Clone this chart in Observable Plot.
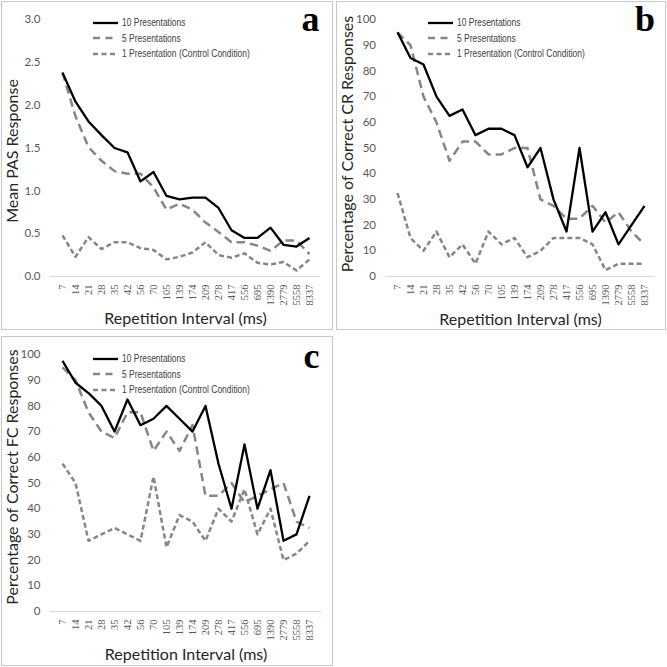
<!DOCTYPE html>
<html>
<head>
<meta charset="utf-8">
<script src="https://cdn.jsdelivr.net/npm/d3@7"></script>
<script src="https://cdn.jsdelivr.net/npm/@observablehq/plot@0.6"></script>
<style>
  body { margin: 0; background: #fff; }
  #wrap { position: relative; width: 667px; height: 667px; background: #fff; overflow: hidden; }
  .panel { position: absolute; box-sizing: border-box; border: 1px solid #c8c8c8; pointer-events: none; }
  .plot { position: absolute; max-width: none !important; }
  .plot g[aria-label="x-axis tick label"], .plot g[aria-label="x-axis tick label"] text { font-family: "Liberation Serif", "DejaVu Serif", serif; }
  .legend { position: absolute; font-family: "Liberation Sans", Arial, sans-serif; font-size: 10.2px; color: #404040; }
  .legend .row { display: flex; align-items: center; height: 15.5px; white-space: nowrap; }
  .legend svg { margin-right: 4px; flex: none; }
  .legend span { display: inline-block; transform: scaleX(0.83); transform-origin: left center; }
</style>
</head>
<body>
<div id="wrap"></div>
<script>
// ---- data ----
const intervals = ["7","14","21","28","35","42","56","70","105","139","174","209","278","417","556","695","1390","2779","5558","8337"];
const seriesNames = ["10 Presentations", "5 Presentations", "1 Presentation (Control Condition)"];

// Panel a: Mean PAS Response
const pas10 = [2.38,2.04,1.81,1.65,1.50,1.45,1.11,1.22,0.94,0.90,0.92,0.92,0.80,0.54,0.45,0.45,0.57,0.37,0.35,0.45];
const pas5  = [2.38,1.87,1.51,1.35,1.23,1.20,1.20,1.04,0.78,0.85,0.78,0.63,0.52,0.40,0.40,0.36,0.30,0.42,0.42,0.26];
const pas1  = [0.48,0.23,0.46,0.32,0.40,0.40,0.33,0.31,0.20,0.23,0.28,0.40,0.25,0.22,0.27,0.16,0.14,0.17,0.07,0.20];

// Panel b: Percentage of Correct CR Responses
const cr10 = [95,85,82.5,70,62.5,65,55,57.5,57.5,55,42.5,50,30,17.5,50,17.5,25,12.5,20,27.5];
const cr5  = [95,90,70,60,45,52.5,52.5,47.5,47.5,50,50,30,27.5,22.5,22.5,27.5,21,25,17.5,12.5];
const cr1  = [32.5,15,10,17.5,7.5,12.5,5,17.5,12.5,15,7.5,10,15,15,15,12.5,2.5,5,5,5];

// Panel c: Percentage of Correct FC Responses
const fc10 = [97.5,89,85,80,70,82.5,72.5,75,80,75,70,80,57.5,40,65,40,55,27.5,30,45];
const fc5  = [95,90,77.5,70,67.5,77.5,77.5,62.5,70,62.5,72.5,45,45,50,42.5,45,47.5,50,35,32.5];
const fc1  = [57.5,50,27.5,30,32.5,30,27.5,52.5,25,37.5,35,27.5,40,35,47.5,30,40,20,22.5,27.5];

const pasTicks = [0, 0.5, 1.0, 1.5, 2.0, 2.5, 3.0];
const pctTicks = [0, 10, 20, 30, 40, 50, 60, 70, 80, 90, 100];
const xTitle = "Repetition Interval (ms)";

// ---- styles ----
const styles = [
  {stroke: "#000000", strokeWidth: 2.3, dash: null},
  {stroke: "#868686", strokeWidth: 2.5, dash: "8.5,5"},
  {stroke: "#868686", strokeWidth: 2.5, dash: "5,3"}
];

const wrap = document.getElementById("wrap");

function makePanel(cfg) {
  const rows = cfg.series.map((arr, k) => intervals.map((iv, i) => ({interval: iv, value: arr[i], series: seriesNames[k]})));
  const lineMarks = [2, 1, 0].map(k => {
    const s = styles[k];
    return Plot.line(rows[k], {x: "interval", y: "value", stroke: s.stroke, strokeWidth: s.strokeWidth,
      strokeDasharray: s.dash || undefined, strokeLinejoin: "round", strokeLinecap: "butt"});
  });
  const chart = Plot.plot({
    width: cfg.width, height: cfg.height,
    marginLeft: cfg.ml, marginRight: cfg.mr, marginTop: cfg.mt, marginBottom: cfg.mb,
    style: {background: "transparent", overflow: "visible"},
    x: {type: "point", domain: intervals, padding: 0.5, label: null},
    y: {domain: cfg.ydomain, label: null},
    marks: [
      Plot.ruleY([0], {stroke: "#d9d9d9", strokeWidth: 1}),
      Plot.axisX({tickRotate: -90, tickSize: 0, tickPadding: 8, fontFamily: "Liberation Serif", fontSize: 10.5, color: "#595959", label: null}),
      Plot.axisY({ticks: cfg.yticks, tickFormat: cfg.yfmt, tickSize: 0, tickPadding: 10, fontFamily: "Lato", fontSize: 11.5, color: "#595959", label: null}),
      ...lineMarks,
      Plot.text([xTitle], {text: d => d, frameAnchor: "bottom", textAnchor: "middle", dy: cfg.xdy, fontFamily: "Lato", fontSize: 16, fill: "#262626", lineAnchor: "middle"}),
      Plot.text([cfg.ylabel], {text: d => d, frameAnchor: "left", textAnchor: "middle", dx: cfg.ydx, dy: cfg.ydy, rotate: -90, fontFamily: "Lato", fontSize: 16, fill: "#262626", lineAnchor: "middle"}),
      Plot.text([cfg.letter], {text: d => d, frameAnchor: "top-right", textAnchor: "end", lineAnchor: "bottom", dx: cfg.letterDx, dy: cfg.letterDy, fontFamily: "Liberation Serif", fontWeight: "bold", fontSize: 36, fill: "#000"})
    ]
  });
  chart.classList.add("plot");
  chart.style.left = cfg.left + "px";
  chart.style.top = cfg.top + "px";
  wrap.appendChild(chart);

  // panel border
  const box = document.createElement("div");
  box.className = "panel";
  Object.assign(box.style, {left: cfg.box[0] + "px", top: cfg.box[1] + "px", width: cfg.box[2] + "px", height: cfg.box[3] + "px"});
  wrap.appendChild(box);

  // legend
  const lg = document.createElement("div");
  lg.className = "legend";
  lg.style.left = cfg.legend[0] + "px";
  lg.style.top = cfg.legend[1] + "px";
  seriesNames.forEach((name, k) => {
    const row = document.createElement("div");
    row.className = "row";
    const s = styles[k];
    const svg = d3.create("svg").attr("width", 25).attr("height", 6);
    svg.append("line").attr("x1", 0).attr("x2", 25).attr("y1", 3).attr("y2", 3)
      .attr("stroke", s.stroke).attr("stroke-width", k === 0 ? 2.3 : 2.5)
      .attr("stroke-dasharray", k === 1 ? "7,5.5" : k === 2 ? "5,3.5" : null);
    row.appendChild(svg.node());
    const t = document.createElement("span");
    t.textContent = name;
    row.appendChild(t);
    lg.appendChild(row);
  });
  wrap.appendChild(lg);
}

makePanel({
  left: 0, top: 0, width: 332, height: 330, ml: 50, mr: 12, mt: 19, mb: 54,
  ydomain: [0, 3], yticks: pasTicks, yfmt: d3.format(".1f"), ylabel: "Mean PAS Response",
  series: [pas10, pas5, pas1], letter: "a", letterDx: -1, letterDy: 11,
  xdy: 42, ydx: -38, ydy: 3, box: [1, 1, 332, 329], legend: [93, 15]
});
makePanel({
  left: 335, top: 0, width: 332, height: 330, ml: 50.5, mr: 12.5, mt: 19, mb: 54,
  ydomain: [0, 100], yticks: pctTicks, yfmt: d3.format("d"), ylabel: "Percentage of Correct CR Responses",
  series: [cr10, cr5, cr1], letter: "b", letterDx: 0, letterDy: 11,
  xdy: 43, ydx: -38, ydy: -4, box: [336, 1, 330, 329], legend: [428, 15]
});
makePanel({
  left: 0, top: 335, width: 332, height: 332, ml: 50, mr: 11, mt: 19, mb: 56,
  ydomain: [0, 100], yticks: pctTicks, yfmt: d3.format("d"), ylabel: "Percentage of Correct FC Responses",
  series: [fc10, fc5, fc1], letter: "c", letterDx: -2, letterDy: 13,
  xdy: 43, ydx: -38, ydy: -6, box: [1, 336, 332, 330], legend: [93, 351]
});
</script>
</body>
</html>
